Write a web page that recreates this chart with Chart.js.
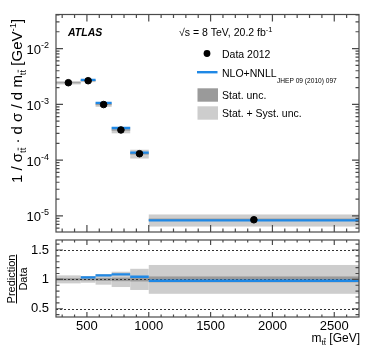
<!DOCTYPE html>
<html>
<head>
<meta charset="utf-8">
<script src="https://cdn.jsdelivr.net/npm/chart.js@4.4.0/dist/chart.umd.min.js"></script>
<style>
  html, body { margin: 0; padding: 0; background: #fff; }
  #wrap { position: relative; width: 374px; height: 360px; }
  #mainChart { position: absolute; left: 0; top: 0; }
  #ratioChart { position: absolute; left: 0; top: 237px; }
</style>
</head>
<body>
<div id="wrap">
  <canvas id="mainChart" width="374" height="237"></canvas>
  <canvas id="ratioChart" width="374" height="123"></canvas>
</div>
<script>
// m_tt bins [GeV]
const BIN_EDGES = [250, 450, 570, 700, 850, 1000, 2700];
const DATA_VALUES = [2.44e-3, 2.65e-3, 9.9e-4, 3.47e-4, 1.30e-4, 8.5e-6];
const PRED_VALUES = [null, 2.74e-3, 1.06e-3, 3.76e-4, 1.36e-4, 8.3e-6];
const RATIO_VALUES = [null, 1.034, 1.068, 1.085, 1.045, 0.977];
// relative uncertainties
const STAT_UNC = [0.02, 0.02, 0.025, 0.03, 0.035, 0.05];
const TOTAL_UNC = [0.068, 0.057, 0.09, 0.13, 0.18, 0.245];

const X_TICKS = [500, 1000, 1500, 2000, 2500];
const LOG_TICKS = [-5, -4, -3, -2];
const RATIO_TICKS = [0.5, 1, 1.5];
const RATIO_REF_LINES = [0.5, 1, 1.5];

const FONT = '"Liberation Sans", Arial, Helvetica, sans-serif';
Chart.defaults.font.family = FONT;
const BLUE = '#1f88e5';
const DARK = '#9a9a9a';
const LIGHT = '#cdcdcd';
const FRAME = '#4a4a4a';

const binCenter = i => (BIN_EDGES[i] + BIN_EDGES[i + 1]) / 2;

// step segments, broken between bins
function stepSegments(values) {
    const pts = [];
    values.forEach((v, i) => {
        if (v === null) return;
        pts.push({ x: BIN_EDGES[i], y: v }, { x: BIN_EDGES[i + 1], y: v }, { x: BIN_EDGES[i + 1], y: null });
    });
    return pts;
}

// text with sub/superscripts: segs = [{t, size, dy, bold, italic, bar}]
function drawRich(ctx, segs, x, y, align) {
    const fontOf = s => `${s.italic ? 'italic ' : ''}${s.bold ? 'bold ' : ''}${s.size}px ${FONT}`;
    let total = 0;
    segs.forEach(s => { ctx.font = fontOf(s); s.w = ctx.measureText(s.t).width; total += s.w; });
    let cx = align === 'right' ? x - total : align === 'center' ? x - total / 2 : x;
    segs.forEach(s => {
        ctx.font = fontOf(s);
        ctx.fillText(s.t, cx, y + (s.dy || 0));
        if (s.bar) {
            ctx.fillRect(cx, y + (s.dy || 0) - s.size * 0.82, s.w, 0.8);
        }
        cx += s.w;
    });
    return total;
}

function bandPlugin(centerOf, afterBands) {
    return {
        id: 'bands',
        beforeDatasetsDraw(chart) {
            const { ctx, chartArea: a, scales: { x, y } } = chart;
            ctx.save();
            ctx.beginPath();
            ctx.rect(a.left, a.top, a.right - a.left, a.bottom - a.top);
            ctx.clip();
            [[TOTAL_UNC, LIGHT], [STAT_UNC, DARK]].forEach(([unc, col]) => {
                ctx.fillStyle = col;
                DATA_VALUES.forEach((v, i) => {
                    const c = centerOf(i);
                    const x0 = x.getPixelForValue(BIN_EDGES[i]);
                    const x1 = x.getPixelForValue(BIN_EDGES[i + 1]);
                    const y0 = y.getPixelForValue(c * (1 + unc[i]));
                    const y1 = y.getPixelForValue(c * (1 - unc[i]));
                    ctx.fillRect(x0, y0, x1 - x0, y1 - y0);
                });
            });
            if (afterBands) afterBands(chart);
            ctx.restore();
        }
    };
}

// frame with inward ticks on all four sides
function framePlugin(xMaj, xMin, yMaj, yMin, lens, extra) {
    return {
        id: 'frame',
        afterDraw(chart) {
            const { ctx, chartArea: a, scales: { x, y } } = chart;
            ctx.save();
            ctx.strokeStyle = FRAME;
            ctx.lineWidth = 1.2;
            ctx.strokeRect(a.left, a.top, a.right - a.left, a.bottom - a.top);
            ctx.beginPath();
            const xt = (vals, len) => vals.forEach(v => {
                const px = x.getPixelForValue(v);
                ctx.moveTo(px, a.bottom); ctx.lineTo(px, a.bottom - len);
                ctx.moveTo(px, a.top); ctx.lineTo(px, a.top + len);
            });
            const yt = (vals, len) => vals.forEach(v => {
                const py = y.getPixelForValue(v);
                if (py < a.top || py > a.bottom) return;
                ctx.moveTo(a.left, py); ctx.lineTo(a.left + len, py);
                ctx.moveTo(a.right, py); ctx.lineTo(a.right - len, py);
            });
            xt(xMaj, lens[0]); xt(xMin, lens[1]);
            yt(yMaj, lens[2]); yt(yMin, lens[3]);
            ctx.stroke();
            ctx.restore();
            if (extra) extra(chart);
        }
    };
}

const xMinor = [];
for (let v = 300; v < 2700; v += 100) if (v % 500) xMinor.push(v);
const logMinor = [];
for (let e = -6; e <= -2; e++) for (let m = 2; m <= 9; m++) logMinor.push(m * Math.pow(10, e));
const ratioMinor = [];
for (let v = 0.4; v < 1.65; v += 0.1) ratioMinor.push(Math.round(v * 10) / 10);

// ---------- main panel ----------
function drawMainText(chart) {
    const { ctx, scales: { y }, chartArea: a } = chart;
    ctx.save();
    ctx.fillStyle = '#000';
    ctx.textBaseline = 'alphabetic';

    // log tick labels
    LOG_TICKS.forEach(e => {
        const py = y.getPixelForValue(Math.pow(10, e));
        drawRich(ctx, [
            { t: '10', size: 13 },
            { t: String(e), size: 9, dy: -6 }
        ], a.left - 7, py + 5.5, 'right');
    });

    drawRich(ctx, [{ t: 'ATLAS', size: 10.5, bold: true, italic: true }], 68, 36, 'left');
    drawRich(ctx, [
        { t: '\u221As = 8 TeV, 20.2 fb', size: 10.5 },
        { t: '-1', size: 7.5, dy: -4.5 }
    ], 179, 36, 'left');

    // legend
    ctx.beginPath();
    ctx.arc(207, 53.5, 3.4, 0, Math.PI * 2);
    ctx.fill();
    drawRich(ctx, [{ t: 'Data 2012', size: 10.5 }], 222, 57.5, 'left');
    ctx.fillStyle = BLUE;
    ctx.fillRect(197, 71, 20.5, 2.4);
    ctx.fillStyle = '#000';
    drawRich(ctx, [{ t: 'NLO+NNLL', size: 10.5 }], 222, 76.5, 'left');
    drawRich(ctx, [{ t: 'JHEP 09 (2010) 097', size: 6.6 }], 277, 83, 'left');
    ctx.fillStyle = DARK;
    ctx.fillRect(197.5, 88.3, 20.5, 13.4);
    ctx.fillStyle = LIGHT;
    ctx.fillRect(197.5, 106.3, 20.5, 13.4);
    ctx.fillStyle = '#000';
    drawRich(ctx, [{ t: 'Stat. unc.', size: 10.5 }], 222, 98.5, 'left');
    drawRich(ctx, [{ t: 'Stat. + Syst. unc.', size: 10.5 }], 222, 117, 'left');

    // y title
    ctx.translate(22, 101);
    ctx.rotate(-Math.PI / 2);
    drawRich(ctx, [
        { t: '1 / \u03C3', size: 15 },
        { t: 't', size: 9.5, dy: 3.5 }, { t: 't', size: 9.5, dy: 3.5, bar: true },
        { t: ' \u00B7 d \u03C3 / d m', size: 15 },
        { t: 't', size: 9.5, dy: 3.5 }, { t: 't', size: 9.5, dy: 3.5, bar: true },
        { t: ' [GeV', size: 15 },
        { t: '-1', size: 9.5, dy: -6.5 },
        { t: ']', size: 15 }
    ], 0, 0, 'center');
    ctx.restore();
}

new Chart(document.getElementById('mainChart'), {
    type: 'scatter',
    data: {
        datasets: [
            {
                type: 'line',
                label: 'NLO+NNLL',
                data: stepSegments(PRED_VALUES),
                borderColor: BLUE,
                borderWidth: 2.4,
                borderCapStyle: 'butt',
                pointRadius: 0,
                spanGaps: false,
                order: 2
            },
            {
                type: 'scatter',
                label: 'Data 2012',
                data: DATA_VALUES.map((v, i) => ({ x: binCenter(i), y: v })),
                backgroundColor: '#000',
                borderColor: '#000',
                pointRadius: 3.3,
                order: 1
            }
        ]
    },
    options: {
        responsive: false,
        animation: false,
        layout: { padding: { left: 56, right: 15, top: 14.5, bottom: 3.7 } },
        plugins: { legend: { display: false }, tooltip: { enabled: false } },
        scales: {
            x: { type: 'linear', min: 250, max: 2700, display: false },
            y: { type: 'logarithmic', min: 5.13e-6, max: 0.0408, display: false }
        }
    },
    plugins: [
        bandPlugin(i => DATA_VALUES[i]),
        framePlugin(X_TICKS, xMinor, LOG_TICKS.map(e => Math.pow(10, e)), logMinor, [7, 3.5, 7, 3.5], drawMainText)
    ]
});

// ---------- ratio panel ----------
function drawRefLines(chart) {
    const { ctx, chartArea: a, scales: { y } } = chart;
    ctx.strokeStyle = '#333';
    ctx.lineWidth = 1;
    ctx.setLineDash([2, 2]);
    RATIO_REF_LINES.forEach(v => {
        const py = Math.round(y.getPixelForValue(v)) + 0.5;
        ctx.beginPath();
        ctx.moveTo(a.left, py);
        ctx.lineTo(a.right, py);
        ctx.stroke();
    });
    ctx.setLineDash([]);
}

function drawRatioText(chart) {
    const { ctx, chartArea: a } = chart;
    ctx.save();
    ctx.fillStyle = '#000';
    drawRich(ctx, [
        { t: 'm', size: 12 },
        { t: 't', size: 8, dy: 3 }, { t: 't', size: 8, dy: 3, bar: true },
        { t: ' [GeV]', size: 12 }
    ], a.right + 1, 105, 'right');

    ctx.translate(0, 42);
    ctx.rotate(-Math.PI / 2);
    ctx.font = `11px ${FONT}`;
    const w = ctx.measureText('Prediction').width;
    drawRich(ctx, [{ t: 'Prediction', size: 11 }], 0, 14.5, 'center');
    ctx.fillRect(-w / 2, 16, w, 1);
    drawRich(ctx, [{ t: 'Data', size: 11 }], 0, 26.5, 'center');
    ctx.restore();
}

new Chart(document.getElementById('ratioChart'), {
    type: 'line',
    data: {
        datasets: [{
            label: 'NLO+NNLL / Data',
            data: stepSegments(RATIO_VALUES),
            borderColor: BLUE,
            borderWidth: 2.4,
            borderCapStyle: 'butt',
            pointRadius: 0,
            spanGaps: false
        }]
    },
    options: {
        responsive: false,
        animation: false,
        layout: { padding: { left: 0, right: 15, top: 3, bottom: 23 } },
        plugins: { legend: { display: false }, tooltip: { enabled: false } },
        scales: {
            x: {
                type: 'linear', min: 250, max: 2700,
                grid: { display: false, drawTicks: false },
                border: { display: false },
                ticks: { color: '#000', font: { size: 13 }, padding: 2, maxRotation: 0, autoSkip: false, callback: v => String(v) },
                afterBuildTicks: s => { s.ticks = X_TICKS.map(v => ({ value: v })); },
                afterFit: s => { s.height = 20; s.paddingLeft = 0; s.paddingRight = 0; }
            },
            y: {
                type: 'linear', min: 0.36, max: 1.67,
                grid: { display: false, drawTicks: false },
                border: { display: false },
                ticks: { color: '#000', font: { size: 13 }, padding: 7, callback: v => String(v) },
                afterBuildTicks: s => { s.ticks = RATIO_TICKS.map(v => ({ value: v })); },
                afterFit: s => { s.width = 56; s.paddingTop = 0; s.paddingBottom = 0; }
            }
        }
    },
    plugins: [
        bandPlugin(() => 1, drawRefLines),
        framePlugin(X_TICKS, xMinor, RATIO_TICKS, ratioMinor, [5, 2.5, 7, 3.5], drawRatioText)
    ]
});
</script>
</body>
</html>
